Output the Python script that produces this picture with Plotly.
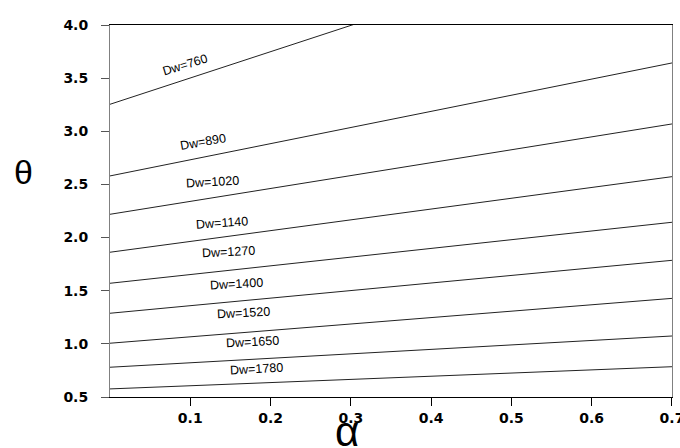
import plotly.graph_objects as go

# Data
dw = [760, 890, 1020, 1140, 1270, 1400, 1520, 1650, 1780]
alpha_ends = [0.0, 0.7]
theta_start = [3.254, 2.580, 2.219, 1.862, 1.570, 1.288, 1.006, 0.780, 0.576]
theta_end = [4.986, 3.643, 3.069, 2.573, 2.144, 1.786, 1.428, 1.074, 0.785]

# label positions (alpha, theta) and tilt
label_alpha = [0.0935, 0.116, 0.128, 0.1395, 0.147, 0.158, 0.166, 0.177, 0.183]
label_theta = [3.624, 2.899, 2.523, 2.137, 1.865, 1.563, 1.291, 1.018, 0.764]
label_angle = [-17, -10, -3, -4, -3, -3, -3, -3, -3]

x_ticks = [0.1, 0.2, 0.3, 0.4, 0.5, 0.6, 0.7]
y_ticks = [0.5, 1.0, 1.5, 2.0, 2.5, 3.0, 3.5, 4.0]

L, R, T, B = 110, 8, 25, 51
W, H = 680, 448
PW, PH = W - L - R, H - T - B

fig = go.Figure()
for d, t0, t1 in zip(dw, theta_start, theta_end):
    fig.add_trace(go.Scatter(
        x=alpha_ends, y=[t0, t1], mode="lines",
        line=dict(color="#222222", width=1), name=f"Dw={d}",
        showlegend=False, hoverinfo="skip"))

for d, a, t, ang in zip(dw, label_alpha, label_theta, label_angle):
    fig.add_annotation(x=a, y=t, xref="x", yref="y", text=f"Dw={d}",
                       showarrow=False, textangle=ang,
                       xanchor="center", yanchor="middle",
                       font=dict(family="Arial", size=12.5, color="black"))

# axis titles placed at their pixel centres
fig.add_annotation(xref="paper", yref="paper",
                   x=(23 - L) / PW, y=(H - 172 - B) / PH,
                   text="θ", showarrow=False, xanchor="center", yanchor="middle",
                   font=dict(family="Arial", size=34, color="black"))
fig.add_annotation(xref="paper", yref="paper",
                   x=(347 - L) / PW, y=(H - 432 - B) / PH,
                   text="α", showarrow=False, xanchor="center", yanchor="middle",
                   font=dict(family="Arial", size=42, color="black"))

fig.update_layout(
    width=W, height=H,
    margin=dict(l=L, r=R, t=T, b=B, autoexpand=False),
    paper_bgcolor="white", plot_bgcolor="white",
    showlegend=False,
)

tick_font = dict(family="DejaVu Sans", size=14, color="black", weight="bold")
fig.update_xaxes(range=[0, 0.70001], tickvals=x_ticks, ticktext=[f"{v:.1f}" for v in x_ticks],
                 ticks="outside", ticklen=8, tickcolor="black", tickwidth=1,
                 showline=True, linecolor="black", linewidth=1, mirror=True,
                 showgrid=False, zeroline=False, ticklabelstandoff=0,
                 ticklabeloverflow="allow", automargin=False,
                 tickfont=tick_font)
fig.update_yaxes(range=[0.5, 4.0], tickvals=y_ticks, ticktext=[f"{v:.1f}" for v in y_ticks],
                 ticks="outside", ticklen=8, tickcolor="#555555", tickwidth=1,
                 showline=True, linecolor="#808080", linewidth=1, mirror=True,
                 showgrid=False, zeroline=False, ticklabelstandoff=10,
                 ticklabeloverflow="allow", automargin=False,
                 tickfont=tick_font)

fig.write_html("out.html")
